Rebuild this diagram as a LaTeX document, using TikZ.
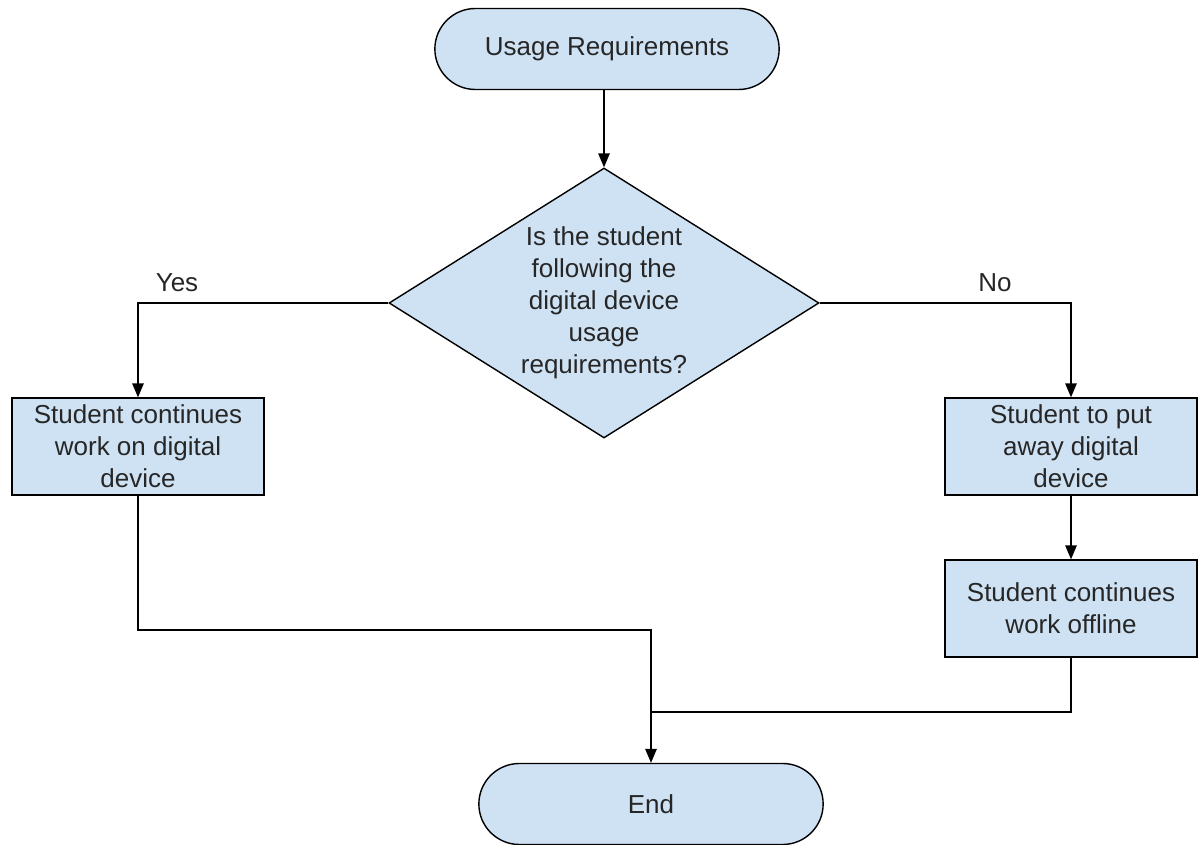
\documentclass[tikz,border=0pt]{standalone}
\usepackage{fontspec}
\setmainfont{Liberation Sans}
\usepackage{tikz}
\usetikzlibrary{arrows}
\usetikzlibrary{shapes.geometric, shapes.misc, positioning, calc}
\usepackage{xcolor}
\definecolor{boxblue}{HTML}{CFE2F3}

\begin{document}
\begin{tikzpicture}[>=triangle 45, line width=0.8pt,
    every node/.style={font=\fontsize{14.8}{18.2}\selectfont, text=black!85},
    term/.style={rounded rectangle, draw, fill=boxblue, minimum width=7.12cm, minimum height=1.62cm},
    decide/.style={diamond, draw, fill=boxblue, inner sep=0pt, shape aspect=1.59, align=center, minimum width=8.6cm, minimum height=5.4cm},
    proc/.style={rectangle, draw, fill=boxblue, align=center, minimum width=5.04cm, minimum height=1.94cm, inner sep=2pt}]
        \useasboundingbox (0, 0) rectangle (23.96, -16.9);

        \node[term] (start) at (12.14, -0.98) {Usage Requirements};
        \node[decide] (check) at (12.08, -6.06) {Is the student\\following the\\digital device\\usage\\requirements?};
        \node[proc] (keep) at (2.76, -8.93) {Student continues\\work on digital\\device};
        \node[proc] (away) at (21.42, -8.93) {Student to put\\away digital\\device};
        \node[proc] (offline) at (21.42, -12.17) {Student continues\\work offline};
        \node[term] (stop) at (13.02, -16.08) {End};

        \node (yes) at (3.54, -5.66) {Yes};
        \node (no) at (19.9, -5.66) {No};

        \coordinate (joinl) at (13.02, -12.6);
        \coordinate (joinr) at (13.02, -14.24);

        \draw[->] (check.north |- start.south) -- (check.north);
        \draw[->] (check.west) -| (keep.north);
        \draw[->] (check.east) -| (away.north);
        \draw[->] (away) -- (offline);
        \draw[->] (keep.south) |- (joinl) -- (stop.north);
        \draw (offline.south) |- (joinr);
      \end{tikzpicture}
\end{document}
